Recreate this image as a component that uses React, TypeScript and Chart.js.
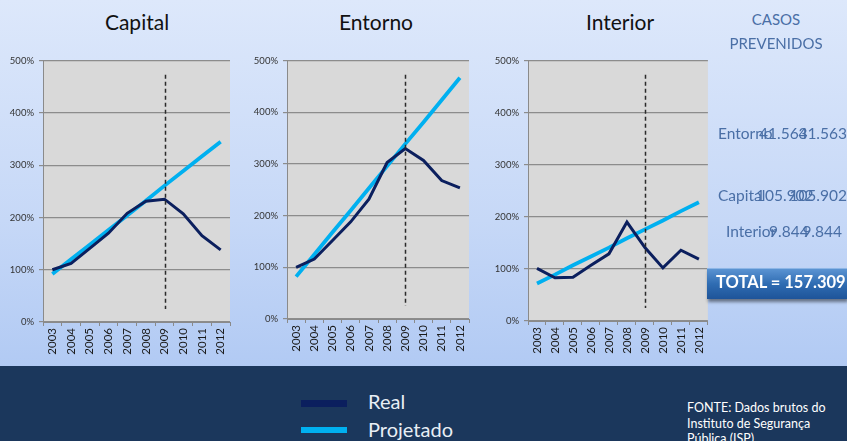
import React, { useEffect, useRef } from "react";
import { Chart, registerables } from "chart.js";

Chart.register(...registerables);

const years = ["2003", "2004", "2005", "2006", "2007", "2008", "2009", "2010", "2011", "2012"];

const capitalReal = [100, 112, 141, 170, 208, 231, 235, 207, 165, 138];
const capitalProjetado = [92, 120, 148, 176, 204, 232, 261, 289, 317, 345];

const entornoReal = [100, 116, 152, 188, 232, 303, 330, 307, 268, 254];
const entornoProjetado = [82, 125, 168, 210, 253, 296, 339, 381, 424, 467];

const interiorReal = [101, 83, 84, 107, 129, 190, 141, 102, 136, 119];
const interiorProjetado = [72, 89, 107, 124, 141, 159, 176, 193, 211, 228];

const yTicks = [0, 100, 200, 300, 400, 500];
const markerYear = "2009";
const markerFrom = 473;
const markerTo = 25;

const FONT = "Lato, 'Open Sans', sans-serif";

type Spec = {
  title: string;
  real: number[];
  proj: number[];
  left: number;
  width: number;
  yW: number;
  padR: number;
  xH: number;
  titleX: number;
};

const specs: Spec[] = [
  { title: "Capital", real: capitalReal, proj: capitalProjetado, left: 0, width: 240, yW: 43, padR: 10, xH: 44, titleX: 137 },
  { title: "Entorno", real: entornoReal, proj: entornoProjetado, left: 245, width: 235, yW: 42, padR: 11, xH: 47, titleX: 376 },
  { title: "Interior", real: interiorReal, proj: interiorProjetado, left: 490, width: 225, yW: 38, padR: 6, xH: 45, titleX: 620 },
];

const bgPlugin = {
  id: "plotBg",
  beforeDraw(chart: any) {
    const { ctx, chartArea } = chart;
    ctx.save();
    ctx.fillStyle = "#D9D9D9";
    ctx.fillRect(chartArea.left, chartArea.top, chartArea.right - chartArea.left, chartArea.bottom - chartArea.top);
    ctx.restore();
  },
};

const markerPlugin = {
  id: "marker",
  afterDatasetsDraw(chart: any) {
    const { ctx, scales } = chart;
    const x = scales.x.getPixelForValue(years.indexOf(markerYear));
    const y1 = scales.y.getPixelForValue(markerFrom);
    const y2 = scales.y.getPixelForValue(markerTo);
    ctx.save();
    ctx.strokeStyle = "#2b2b2b";
    ctx.lineWidth = 1.5;
    ctx.setLineDash([4, 3]);
    ctx.beginPath();
    ctx.moveTo(Math.round(x) + 0.5, y1);
    ctx.lineTo(Math.round(x) + 0.5, y2);
    ctx.stroke();
    ctx.restore();
  },
};

function MiniChart({ spec }: { spec: Spec }) {
  const ref = useRef<HTMLCanvasElement>(null);
  useEffect(() => {
    if (!ref.current) return;
    const chart = new Chart(ref.current, {
      type: "line",
      data: {
        labels: years,
        datasets: [
          {
            label: "Real",
            data: spec.real,
            borderColor: "#0B1F5E",
            borderWidth: 3,
            pointRadius: 0,
            tension: 0,
          },
          {
            label: "Projetado",
            data: spec.proj,
            borderColor: "#00B0F0",
            borderWidth: 3.8,
            pointRadius: 0,
            tension: 0,
          },
        ],
      },
      options: {
        animation: false,
        responsive: false,
        layout: { padding: { top: 7, right: spec.padR, left: 0, bottom: 0 } },
        plugins: { legend: { display: false }, tooltip: { enabled: false } },
        scales: {
          x: {
            offset: true,
            grid: { offset: true, drawOnChartArea: false, drawTicks: true, tickLength: 4, color: "#8a8a8a" },
            border: { color: "#8a8a8a" },
            ticks: { minRotation: 90, maxRotation: 90, color: "#1a1a1a", font: { family: FONT, size: 11.5 }, padding: 2 },
            afterFit: (s: any) => {
              s.height = spec.xH;
            },
          },
          y: {
            min: 0,
            max: 500,
            afterBuildTicks: (s: any) => {
              s.ticks = yTicks.map((v) => ({ value: v }));
            },
            grid: { color: "#8c8c8c", lineWidth: 1.2, tickLength: 4 },
            border: { color: "#8a8a8a" },
            ticks: {
              color: "#333",
              font: { family: FONT, size: 9.5 },
              padding: 5,
              callback: (v: any) => v + "%",
            },
            afterFit: (s: any) => {
              s.width = spec.yW;
            },
          },
        },
      },
      plugins: [bgPlugin, markerPlugin],
    });
    return () => chart.destroy();
  }, [spec]);
  return (
    <canvas
      ref={ref}
      width={spec.width}
      height={316}
      style={{ position: "absolute", left: spec.left, top: 50, width: spec.width, height: 316 }}
    />
  );
}

const txt = (extra: React.CSSProperties): React.CSSProperties => ({
  position: "absolute",
  fontFamily: FONT,
  whiteSpace: "nowrap",
  lineHeight: 1,
  ...extra,
});

export default function App() {
  const blue = "#4A6FA6";
  return (
    <div
      style={{
        position: "fixed",
        left: 0,
        top: 0,
        width: 847,
        height: 441,
        overflow: "hidden",
        background: "linear-gradient(180deg, #DDE8FB 0%, #C6D8F7 50%, #A7C3F2 100%)",
      }}
    >
      {specs.map((s) => (
        <div key={s.title} style={txt({ left: s.titleX - 60, width: 120, top: 11, textAlign: "center", fontSize: 21, color: "#111" })}>
          {s.title}
        </div>
      ))}
      {specs.map((s) => (
        <MiniChart key={s.title} spec={s} />
      ))}

      <div style={txt({ left: 716, width: 120, top: 12, textAlign: "center", fontSize: 15, color: blue })}>CASOS</div>
      <div style={txt({ left: 716, width: 120, top: 36, textAlign: "center", fontSize: 15, color: blue })}>PREVENIDOS</div>

      <div style={txt({ left: 718, top: 126, fontSize: 15.5, color: blue })}>Entorno</div>
      <div style={txt({ left: 759, top: 126, fontSize: 15.5, color: blue })}>41.563</div>
      <div style={txt({ right: 0, top: 126, fontSize: 15.5, color: blue })}>41.563</div>

      <div style={txt({ left: 718, top: 188, fontSize: 15.5, color: blue })}>Capital</div>
      <div style={txt({ left: 756, top: 188, fontSize: 15.5, color: blue })}>105.902</div>
      <div style={txt({ right: 0, top: 188, fontSize: 15.5, color: blue })}>105.902</div>

      <div style={txt({ left: 726, top: 224, fontSize: 15.5, color: blue })}>Interior</div>
      <div style={txt({ left: 769, top: 224, fontSize: 15.5, color: blue })}>9.844</div>
      <div style={txt({ right: 5, top: 224, fontSize: 15.5, color: blue })}>9.844</div>

      <div
        style={{
          position: "absolute",
          left: 707,
          top: 268,
          width: 140,
          height: 30,
          background: "linear-gradient(180deg, #5A93D2 0%, #2F6CB2 50%, #1E5499 100%)",
          boxShadow: "1px 3px 3px rgba(0,0,0,0.45)",
          borderTop: "1px solid #8DB6E6",
        }}
      />
      <div style={txt({ left: 716, top: 274, fontSize: 16.5, fontWeight: 700, color: "#fff" })}>TOTAL = 157.309</div>

      <div style={{ position: "absolute", left: 0, top: 366, width: 847, height: 75, background: "#1B375C" }} />
      <div style={{ position: "absolute", left: 301, top: 400, width: 46, height: 7, background: "#0B1F5E" }} />
      <div style={{ position: "absolute", left: 301, top: 427, width: 46, height: 6, background: "#00B0F0" }} />
      <div style={txt({ left: 368, top: 391, fontSize: 20, color: "#E8EEF5" })}>Real</div>
      <div style={txt({ left: 368, top: 419, fontSize: 20, color: "#E8EEF5" })}>Projetado</div>

      <div style={txt({ left: 687, top: 400, fontSize: 12.5, color: "#fff", lineHeight: "15.5px" })}>
        FONTE: Dados brutos do
        <br />
        Instituto de Segurança
        <br />
        Pública (ISP)
      </div>
    </div>
  );
}
